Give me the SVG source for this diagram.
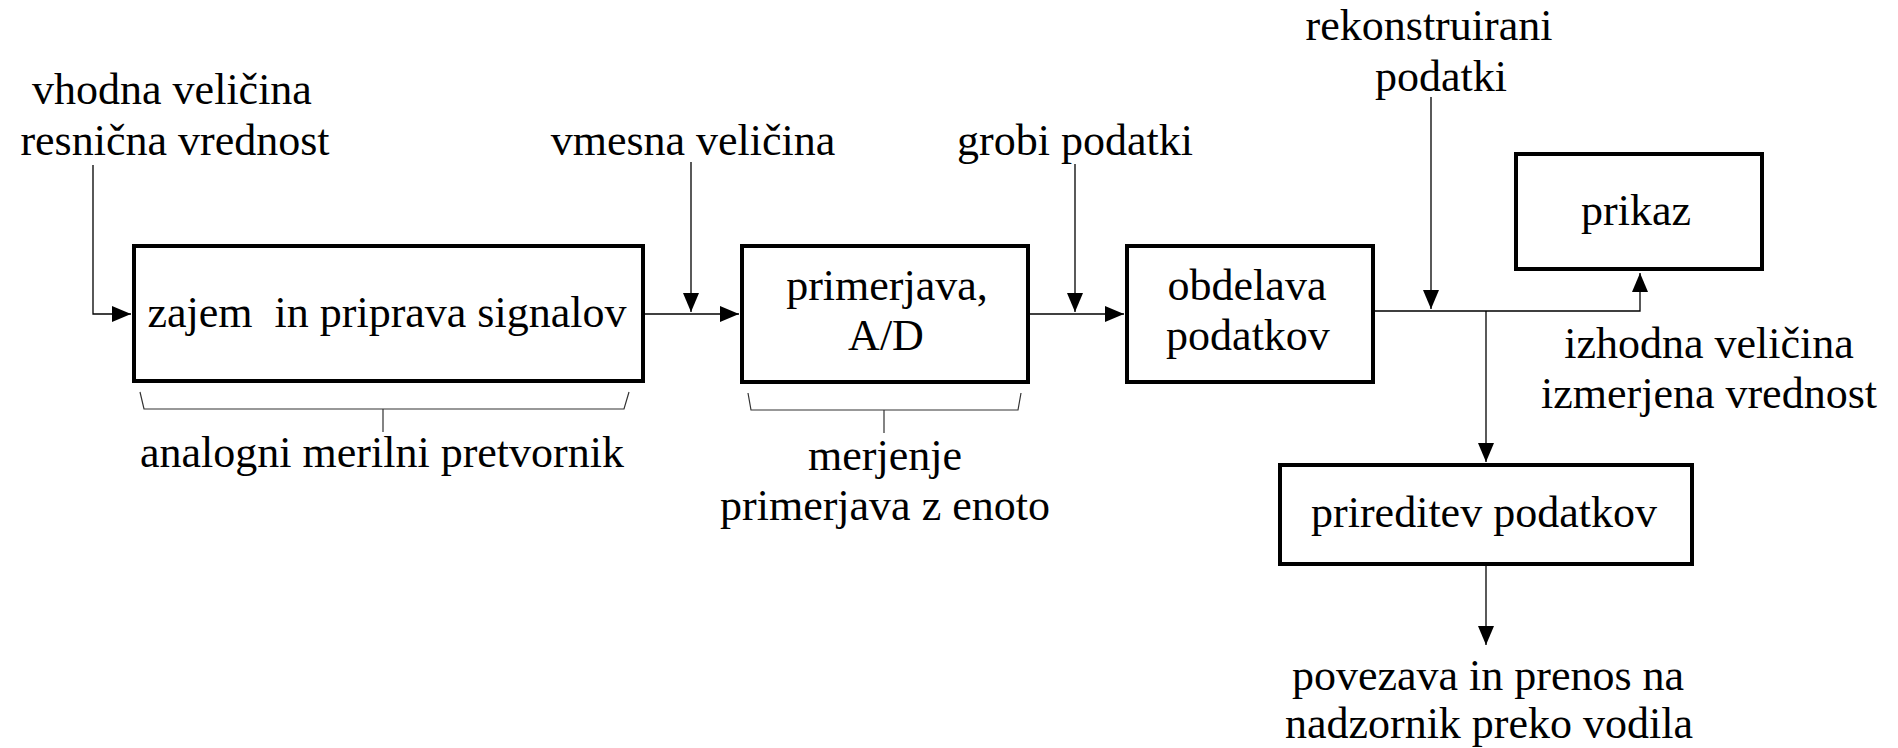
<svg xmlns="http://www.w3.org/2000/svg" width="1898" height="748" viewBox="0 0 1898 748">
<style>
text{font-family:"Liberation Serif","Times New Roman",serif;font-size:44px;fill:#000;text-anchor:middle}
.box{fill:#fff;stroke:#000;stroke-width:4}
.ln{fill:none;stroke:#000;stroke-width:1.3}
.br{fill:none;stroke:#333;stroke-width:1.2}
</style>
<defs>
<marker id="ah" markerUnits="userSpaceOnUse" markerWidth="20" markerHeight="16" refX="19" refY="8" orient="auto" viewBox="0 0 20 16">
<path d="M0,0 L19,8 L0,16 z" fill="#000"/>
</marker>
</defs>
<rect width="1898" height="748" fill="#fff"/>
<g id="connectors">
<path class="ln" d="M93,165 V314 H131" marker-end="url(#ah)"/>
<path class="ln" d="M691,162 V312" marker-end="url(#ah)"/>
<path class="ln" d="M645,314 H739" marker-end="url(#ah)"/>
<path class="ln" d="M1075,164 V312" marker-end="url(#ah)"/>
<path class="ln" d="M1030,314 H1124" marker-end="url(#ah)"/>
<path class="ln" d="M1375,311 H1640 V273" marker-end="url(#ah)"/>
<path class="ln" d="M1431,97 V309" marker-end="url(#ah)"/>
<path class="ln" d="M1486,311 V462" marker-end="url(#ah)"/>
<path class="ln" d="M1486,566 V645" marker-end="url(#ah)"/>
</g>
<g id="bracket-analog">
<path class="br" d="M140,392 L144,409 H624 L629,392 M383,409 V432"/>
<text x="382" y="467">analogni merilni pretvornik</text>
</g>
<g id="bracket-merjenje">
<path class="br" d="M748,393 L751,410 H1018 L1021,393 M884,410 V433"/>
<text x="885" y="470">merjenje</text>
<text x="885" y="520">primerjava z enoto</text>
</g>
<g id="label-vhodna">
<text x="172" y="104">vhodna veličina</text>
<text x="175" y="155">resnična vrednost</text>
</g>
<g id="label-vmesna"><text x="693" y="155">vmesna veličina</text></g>
<g id="label-grobi"><text x="1075" y="155">grobi podatki</text></g>
<g id="label-rekonstruirani">
<text x="1429" y="40">rekonstruirani</text>
<text x="1441" y="91">podatki</text>
</g>
<g id="label-izhodna">
<text x="1709" y="358">izhodna veličina</text>
<text x="1709" y="408">izmerjena vrednost</text>
</g>
<g id="label-povezava">
<text x="1488" y="690">povezava in prenos na</text>
<text x="1489" y="738">nadzornik preko vodila</text>
</g>
<g id="node-zajem">
<rect class="box" x="134" y="246" width="509" height="135"/>
<text x="387" y="327" style="white-space:pre">zajem  in priprava signalov</text>
</g>
<g id="node-primerjava">
<rect class="box" x="742" y="246" width="286" height="136"/>
<text x="887" y="300">primerjava,</text>
<text x="886" y="350">A/D</text>
</g>
<g id="node-obdelava">
<rect class="box" x="1127" y="246" width="246" height="136"/>
<text x="1247" y="300">obdelava</text>
<text x="1248" y="350">podatkov</text>
</g>
<g id="node-prikaz">
<rect class="box" x="1516" y="154" width="246" height="115"/>
<text x="1636" y="225">prikaz</text>
</g>
<g id="node-prireditev">
<rect class="box" x="1280" y="465" width="412" height="99"/>
<text x="1484" y="527">prireditev podatkov</text>
</g>
</svg>
